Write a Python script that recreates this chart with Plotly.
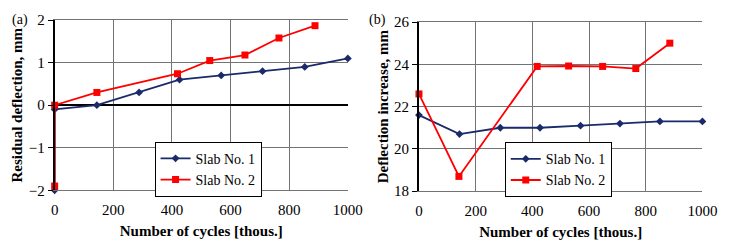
import plotly.graph_objects as go

# Panel (a): residual deflection
a_x1 = [0, 0, 144, 288, 426, 568, 709, 853, 1000]
a_y1 = [-2.0, -0.1, 0.0, 0.3, 0.6, 0.7, 0.8, 0.9, 1.1]
a_x2 = [0, 0, 144, 419, 529, 649, 765, 888]
a_y2 = [-1.9, 0.0, 0.3, 0.74, 1.05, 1.18, 1.58, 1.87]

# Panel (b): deflection increase
b_x1 = [0, 143, 287, 427, 570, 709, 850, 1000]
b_y1 = [21.6, 20.7, 21.0, 21.0, 21.1, 21.2, 21.3, 21.3]
b_x2 = [0, 141, 417, 528, 648, 765, 885]
b_y2 = [22.6, 18.7, 23.9, 23.92, 23.9, 23.8, 25.0]

x_ticks = [0, 200, 400, 600, 800, 1000]
names = ["Slab No. 1", "Slab No. 2"]

BLUE = "#1b2a6b"
RED = "#ff0000"
FONT = "Liberation Serif"

fig = go.Figure()

def add(x, y, name, color, symbol, size, xa, ya, leg):
    fig.add_trace(go.Scatter(
        x=x, y=y, name=name, mode="lines+markers",
        line=dict(color=color, width=1.8),
        marker=dict(color=color, symbol=symbol, size=size),
        xaxis=xa, yaxis=ya, legend=leg, cliponaxis=False))

add(a_x1, a_y1, names[0], BLUE, "diamond", 6, "x", "y", "legend")
add(a_x2, a_y2, names[1], RED, "square", 7, "x", "y", "legend")
add(b_x1, b_y1, names[0], BLUE, "diamond", 6, "x2", "y2", "legend2")
add(b_x2, b_y2, names[1], RED, "square", 7, "x2", "y2", "legend2")

W, H = 733, 245
def dx(a, b):
    return [a / W, b / W]
def dy(top, bot):
    return [1 - bot / H, 1 - top / H]

GRID = "#737373"
TF = dict(family=FONT, size=15, color="black")
TTL = dict(family=FONT, size=15, color="black")
xcommon = dict(range=[0, 1000], tickvals=x_ticks, showgrid=True, gridcolor=GRID,
               gridwidth=1, zeroline=False, showline=True, linecolor=GRID, mirror=True,
               ticks="outside", ticklen=6, tickcolor="rgba(0,0,0,0)",
               tickfont=TF,
               title=dict(text="<b>Number of cycles [thous.]</b>", font=TTL, standoff=8))
ycommon = dict(showgrid=True, gridcolor=GRID, gridwidth=1, showline=True,
               linecolor="black", linewidth=2, ticks="outside", ticklen=5, tickcolor="black",
               tickfont=TF)

LF = dict(family=FONT, size=14, color="black")
fig.update_layout(
    width=W, height=H, margin=dict(l=0, r=0, t=0, b=0),
    font=dict(family=FONT, size=14, color="black"),
    paper_bgcolor="white", plot_bgcolor="white",
    xaxis=dict(domain=dx(52, 353), anchor="y", **xcommon),
    xaxis2=dict(domain=dx(426, 717), anchor="y2", **xcommon),
    yaxis=dict(domain=dy(13, 195), anchor="x", range=[-2, 2], tickvals=[-2, -1, 0, 1, 2],
               zeroline=True, zerolinecolor="black", zerolinewidth=2,
               title=dict(text="<b>Residual deflection, mm</b>", font=TTL, standoff=2),
               **ycommon),
    yaxis2=dict(domain=dy(15, 196), anchor="x2", range=[18, 26], tickvals=[18, 20, 22, 24, 26],
                zeroline=False,
                title=dict(text="<b>Deflection increase, mm</b>", font=TTL, standoff=2),
                **ycommon),
    legend=dict(x=209.5 / W, y=1 - 172.5 / H, xanchor="center", yanchor="middle",
                bgcolor="white", bordercolor="black", borderwidth=1,
                font=LF, tracegroupgap=0, itemwidth=30),
    legend2=dict(x=569 / W, y=1 - 173 / H, xanchor="center", yanchor="middle",
                 bgcolor="white", bordercolor="black", borderwidth=1,
                 font=LF, tracegroupgap=0, itemwidth=30),
    showlegend=True,
)

fig.add_annotation(text="(a)", x=16 / W, y=1 - 13 / H, xref="paper", yref="paper",
                   xanchor="center", yanchor="middle", showarrow=False,
                   font=dict(family=FONT, size=14, color="black"))
fig.add_annotation(text="(b)", x=383 / W, y=1 - 13 / H, xref="paper", yref="paper",
                   xanchor="center", yanchor="middle", showarrow=False,
                   font=dict(family=FONT, size=14, color="black"))

fig.write_html("out.html")
